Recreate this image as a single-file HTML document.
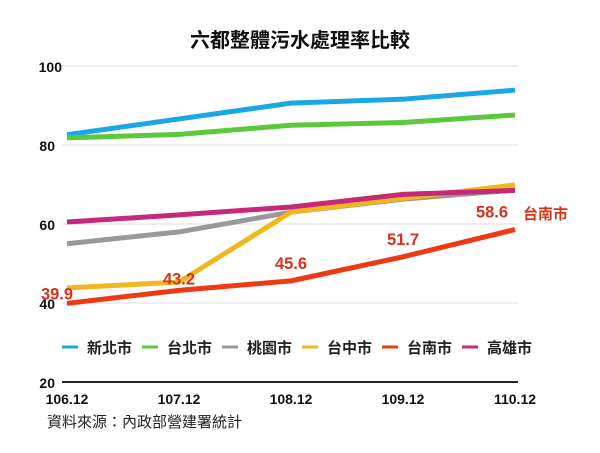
<!DOCTYPE html>
<html><head><meta charset="utf-8"><style>
body{margin:0;background:#fff;}
svg text{font-family:"Liberation Sans","Noto Sans CJK TC",sans-serif;}
</style></head><body>
<svg id="c" width="600" height="448"></svg>
<script>
const categories=["106.12","107.12","108.12","109.12","110.12"];
const seriesNames=["新北市","台北市","桃園市","台中市","台南市","高雄市"];
const seriesColors=["#1aa7e8","#5cc83c","#999999","#f0b81e","#ee3a12","#c8287a"];
const newTaipei=[82.6,86.6,90.6,91.6,93.9];
const taipei=[81.8,82.7,85.0,85.7,87.6];
const taoyuan=[55.0,58.0,63.0,66.3,68.6];
const taichung=[43.8,45.3,63.0,66.5,69.9];
const tainan=[39.9,43.2,45.6,51.7,58.6];
const kaohsiung=[60.5,62.3,64.3,67.5,68.5];
const yTicks=[20,40,60,80,100];
const tainanLabels=["39.9","43.2","45.6","51.7","58.6"];
const ns="http://www.w3.org/2000/svg",svg=document.getElementById('c');
const xS=i=>67+i*112, yS=v=>382-(v-20)*3.95;
function mk(t,a,p){const e=document.createElementNS(ns,t);for(const k in a)e.setAttribute(k,a[k]);(p||svg).appendChild(e);return e;}
const title=mk('text',{x:300,y:47,'text-anchor':'middle','font-size':20,'font-weight':'bold',fill:'#111'});title.textContent="六都整體污水處理率比較";

yTicks.forEach(v=>{
 const g=mk('line',{x1:62,x2:518,y1:yS(v),y2:yS(v),stroke:v==20?'#222':'#ddd','stroke-width':v==20?2:1});
 
 const t=mk('text',{x:v==100?62:55,y:yS(v)+6,'text-anchor':'end','font-size':14,'font-weight':'bold',fill:'#111'});t.textContent=v;
 
});
categories.forEach((c,i)=>{const t=mk('text',{x:xS(i),y:404,'text-anchor':'middle','font-size':14,'font-weight':'bold',fill:'#111'});t.textContent=c;
 });
const data=[newTaipei,taipei,taoyuan,taichung,kaohsiung,tainan];
const order=[0,1,2,3,5,4];
data.forEach((d,k)=>{const s=order[k];
 const p=mk('polyline',{points:d.map((v,i)=>xS(i)+','+yS(v)).join(' '),fill:'none',stroke:seriesColors[s],'stroke-width':5,'stroke-linejoin':'round'});
 });
const lblX=[-10,0,0,0,-23];
tainan.forEach((v,i)=>{const t=mk('text',{x:xS(i)+lblX[i],y:yS(v)-(i==0?4:(i==1?6:12)),'text-anchor':'middle','font-size':16.5,'font-weight':'bold',fill:'#d8321a'});t.textContent=tainanLabels[i];
 });
const tn=mk('text',{x:523,y:219,'font-size':15,'font-weight':'bold',fill:'#d8321a'});tn.textContent="台南市";

seriesNames.forEach((n,i)=>{const x=62+i*80;
 const l=mk('line',{x1:x,x2:x+16,y1:347,y2:347,stroke:seriesColors[i],'stroke-width':3});
 
 const t=mk('text',{x:x+25,y:353,'font-size':15,'font-weight':'bold',fill:'#222'});t.textContent=n;
 });
const src=mk('text',{x:47,y:427,'font-size':15,fill:'#222'});src.textContent="資料來源：內政部營建署統計";

</script>
</body></html>
